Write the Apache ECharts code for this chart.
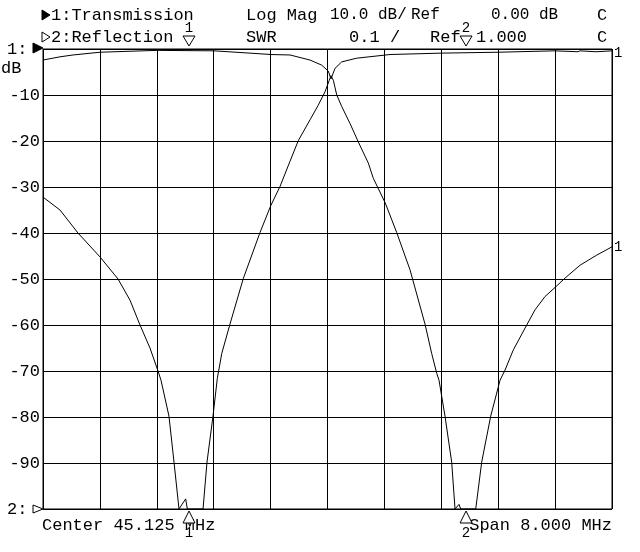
<!DOCTYPE html>
<html>
<head>
<meta charset="utf-8">
<script src="https://cdn.jsdelivr.net/npm/echarts@6/dist/echarts.min.js"></script>
<style>
html, body { margin: 0; padding: 0; background: #fff; }
#main { width: 640px; height: 552px; }
</style>
</head>
<body>
<div id="main"></div>
<script>
// sweep setup
var centerMHz = 45.125;
var spanMHz = 8;

// trace 1: transmission, log mag dB
var transFreq = [41.125, 41.364, 41.617, 41.926, 42.180, 42.348, 42.489, 42.629, 42.742, 42.784,
	42.896, 42.967, 43.037, 43.131, 43.154, 43.375, 43.431, 43.515, 43.576, 43.638,
	43.754, 43.941, 44.176, 44.326, 44.457, 44.598, 44.715, 44.879, 44.992, 45.090,
	45.150, 45.174, 45.207, 45.255, 45.325, 45.442, 45.558, 45.699, 45.769, 45.938,
	46.098, 46.285, 46.496, 46.590, 46.661, 46.693, 46.777, 46.871, 46.918, 46.974,
	46.998, 47.209, 47.293, 47.420, 47.551, 47.621, 47.738, 47.926, 48.043, 48.184,
	48.334, 48.465, 48.676, 48.911, 49.125];
var transDb = [-32.2, -35.0, -40.0, -45.2, -50.0, -54.6, -60.0, -65.0, -70.0, -72.0,
	-79.8, -89.8, -100, -97.8, -100, -100, -89.8, -79.8, -71.6, -66.2,
	-59.8, -49.9, -39.9, -34.1, -29.9, -24.4, -19.9, -15.4, -12.3, -9.3,
	-6.8, -5.8, -6.8, -10.0, -12.5, -16.2, -20.2, -24.8, -28.1, -33.5,
	-39.9, -48.0, -59.8, -66.2, -70.5, -72.0, -79.8, -89.8, -100, -99.0,
	-100, -100, -89.8, -79.8, -72.0, -69.8, -65.4, -60.0, -56.7, -53.8,
	-51.7, -49.8, -47.0, -44.8, -43.0];

// trace 2: reflection, SWR
var reflFreq = [41.125, 41.364, 41.547, 41.926, 42.728, 43.529, 44.035, 44.330, 44.598, 44.879,
	45.043, 45.136, 45.174, 45.231, 45.325, 45.535, 46.004, 46.721, 47.523, 48.324,
	48.647, 48.676, 48.900, 48.928, 49.125];
var reflSwr = [1.976, 1.983, 1.987, 1.993, 1.997, 1.996, 1.991, 1.988, 1.987, 1.976,
	1.965, 1.952, 1.935, 1.958, 1.972, 1.980, 1.988, 1.991, 1.993, 1.996,
	1.994, 1.996, 1.994, 1.996, 1.996];

var markerFreq = [43.178, 47.073];
var markerNames = ['1', '2'];

var FONT = '17px "Liberation Mono", "DejaVu Sans Mono", monospace';
var MID = '16px "Liberation Mono", "DejaVu Sans Mono", monospace';
var SMALL = '14px "Liberation Mono", "DejaVu Sans Mono", monospace';

var chart = echarts.init(document.getElementById('main'));

function pairs(fs, vs) {
	return fs.map(function(f, i) { return [f - centerMHz, vs[i]]; });
}

function txt(s, x, y, align, font) {
	return {
		type: 'text',
		style: { text: s, x: x, y: y, fill: '#000', font: font || FONT,
			textAlign: align || 'left', textVerticalAlign: 'middle' }
	};
}

function tri(points, filled) {
	return {
		type: 'polygon',
		shape: { points: points },
		style: { fill: filled ? '#000' : '#fff', stroke: '#000', lineWidth: 1 }
	};
}

var option = {
	backgroundColor: '#fff',
	animation: false,
	grid: { left: 43, right: 28, top: 49, bottom: 43, show: true, borderColor: '#000', borderWidth: 1 },
	xAxis: {
		type: 'value',
		min: -spanMHz / 2,
		max: spanMHz / 2,
		interval: spanMHz / 10,
		axisLine: { show: false },
		axisTick: { show: false },
		axisLabel: { show: false },
		splitLine: { show: true, lineStyle: { color: '#000', width: 1 } }
	},
	yAxis: [{
		type: 'value',
		min: -100,
		max: 0,
		interval: 10,
		axisLine: { show: false },
		axisTick: { show: false },
		axisLabel: {
			margin: 3,
			color: '#000',
			fontFamily: '"Liberation Mono", "DejaVu Sans Mono", monospace',
			fontSize: 17,
			formatter: function(v) { return (v < 0 && v > -100) ? String(v) : ''; }
		},
		splitLine: { show: true, lineStyle: { color: '#000', width: 1 } }
	}, {
		type: 'value',
		min: 1,
		max: 2,
		show: false,
		splitLine: { show: false }
	}],
	series: [{
		name: 'Transmission',
		type: 'line',
		yAxisIndex: 0,
		showSymbol: false,
		data: pairs(transFreq, transDb),
		lineStyle: { color: '#000', width: 1 }
	}, {
		name: 'Reflection',
		type: 'line',
		yAxisIndex: 1,
		showSymbol: false,
		data: pairs(reflFreq, reflSwr),
		lineStyle: { color: '#000', width: 1 }
	}]
};
chart.setOption(option);

// annotations, markers placed through the axis scale
var g = [];
g.push(tri([[42, 10], [50, 15], [42, 20]], true));
g.push(txt('1:Transmission', 51, 15));
g.push(txt('Log Mag', 246, 15));
g.push(txt('10.0 dB/', 330, 15, 'left', MID));
g.push(txt('Ref', 411, 15, 'left', MID));
g.push(txt('0.00 dB', 491, 15, 'left', MID));
g.push(txt('C', 597, 15));
g.push(tri([[42, 32], [50, 37], [42, 42]], false));
g.push(txt('2:Reflection', 51, 37));
g.push(txt('SWR', 246, 37));
g.push(txt('0.1', 349, 37));
g.push(txt('/', 390, 37));
g.push(txt('Ref', 430, 37));
g.push(txt('1.000', 476, 37));
g.push(txt('C', 597, 37));

g.push(txt('1:', 7, 49));
g.push(tri([[33, 43], [43, 48], [33, 53]], true));
g.push(txt('dB', 1, 68));
g.push(txt('2:', 7, 509));
g.push(tri([[33, 505], [43, 509], [33, 513]], false));

g.push(txt('Center 45.125 MHz', 42, 525));
g.push(txt('Span 8.000 MHz', 612, 525, 'right'));

var yEnd = chart.convertToPixel({ yAxisIndex: 0 }, transDb[transDb.length - 1]);
g.push(txt('1', 614, 53, 'left', SMALL));
g.push(txt('1', 614, yEnd, 'left', SMALL));

markerFreq.forEach(function(f, i) {
	var x = chart.convertToPixel({ xAxisIndex: 0 }, f - centerMHz);
	g.push(txt(markerNames[i], x, 28, 'center', SMALL));
	g.push(tri([[x - 6, 36], [x + 6, 36], [x, 46]], false));
	g.push(tri([[x, 511], [x - 6, 523], [x + 6, 523]], false));
	g.push(txt(markerNames[i], x, 533, 'center', SMALL));
});

chart.setOption({ graphic: g });
</script>
</body>
</html>
